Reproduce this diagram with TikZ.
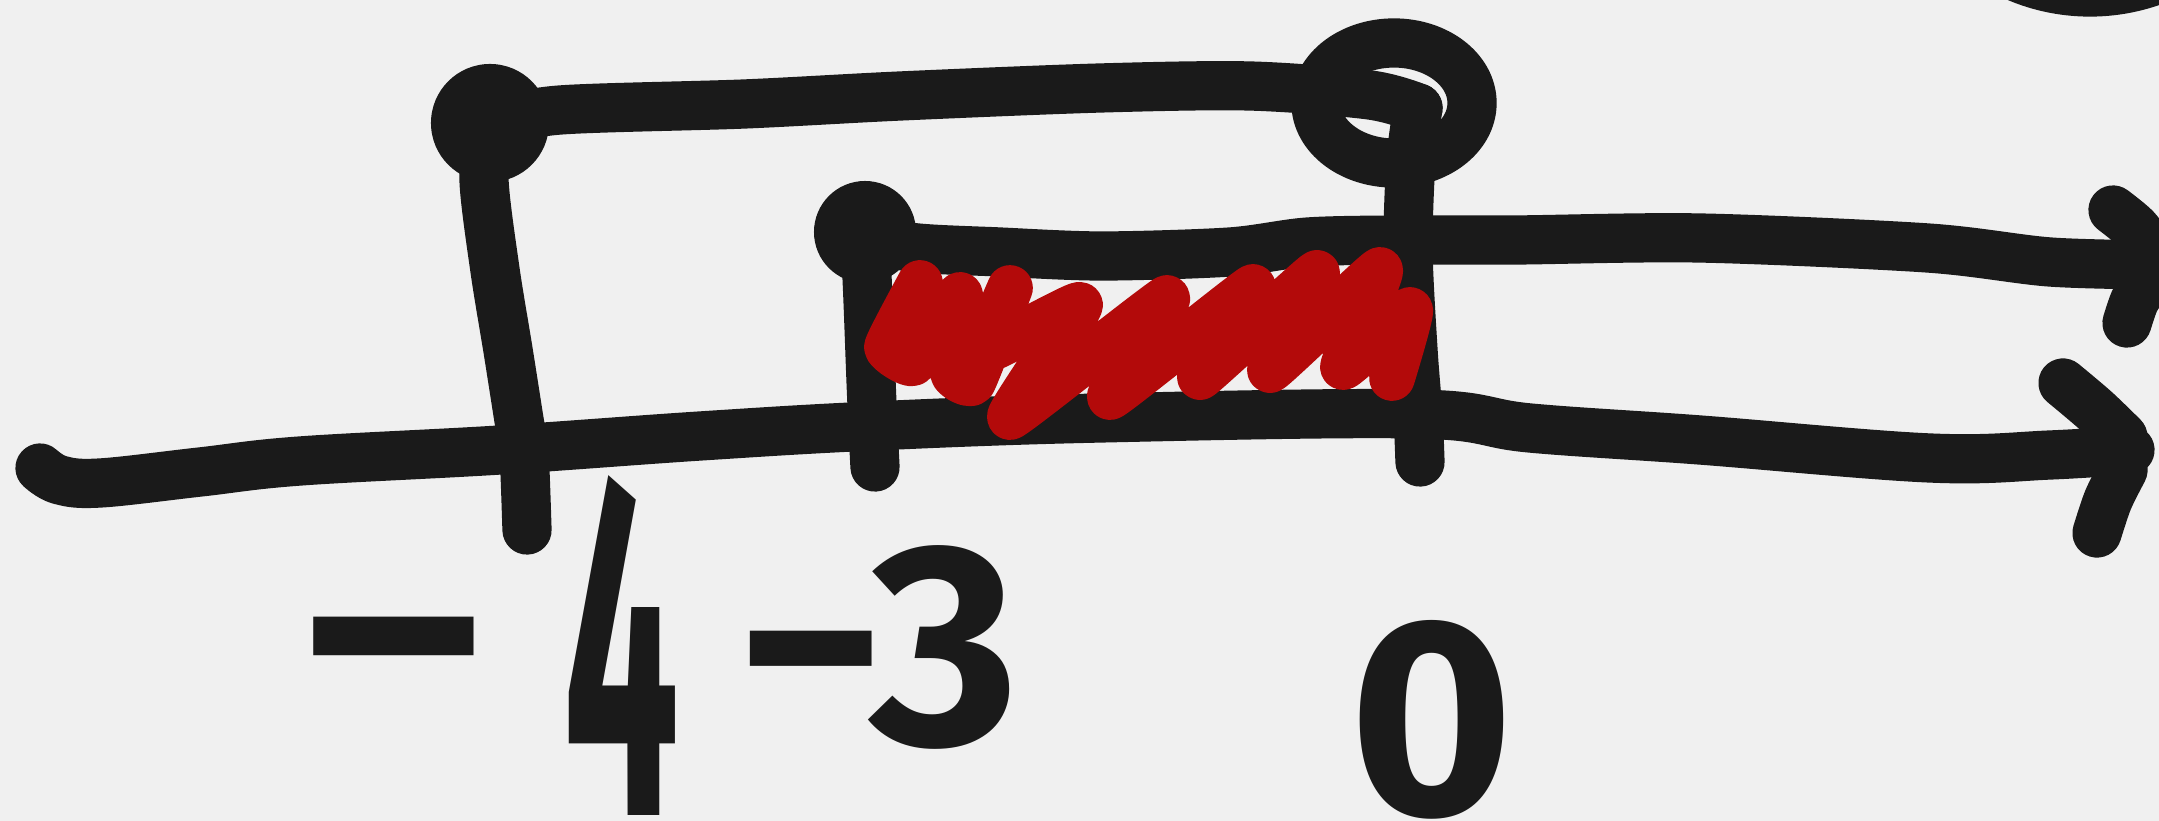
\documentclass[tikz,border=0pt]{standalone}
\usepackage{fontspec}
\setmainfont{Fira Sans}
\usetikzlibrary{shapes.geometric}
\definecolor{bg}{HTML}{F0F0F0}
\definecolor{ink}{HTML}{1A1A1A}
\definecolor{hatch}{HTML}{B30A0A}
\begin{document}
\begin{tikzpicture}[x=0.01cm,y=-0.01cm,
  inkline/.style={draw=ink,line width=14pt,line cap=round,line join=round},
  redline/.style={draw=hatch,line width=13pt,line cap=round,line join=round},
  filleddot/.style={circle,fill=ink,draw=none,inner sep=0pt,minimum size=#1},
  opendot/.style={ellipse,draw=ink,line width=14pt,inner sep=0pt,minimum width=1.56cm,minimum height=1.20cm},
  numlabel/.style={text=ink,font=\bfseries\fontsize{#1}{#1}\selectfont,inner sep=0pt}]
\useasboundingbox (0,0) rectangle (2159,821);
\fill[bg] (0,0) rectangle (2159,821);

% dots
\node[filleddot=1.18cm] (dA) at (490,123) {};
\node[filleddot=1.02cm] (dB) at (865,232) {};
\node[opendot] (oC) at (1394,103) {};

% named end points
\coordinate (lowS) at (40,468);
\coordinate (lowE) at (2130,450);
\coordinate (midE) at (2159,265);
\coordinate (tA) at (527,530);
\coordinate (tB) at (875,467);
\coordinate (tC) at (1420,462);

% lower number line
\draw[inkline] plot[smooth,tension=0.6] coordinates {(lowS) (60,480) (100,483) (200,472) (300,461) (500,450) (700,436) (873,426) (1100,418) (1418,414) (1530,428) (1700,440) (1930,458) (2050,455) (lowE)};
\draw[inkline] plot[smooth] coordinates {(2063,383) (2095,410) (2123,437)};
\draw[inkline] plot[smooth] coordinates {(2123,470) (2108,500) (2097,533)};

% top line from -4 dot through circle, then tick at 0
\draw[inkline] plot[smooth,tension=0.5] coordinates {(dA.center) (560,110) (744,104) (900,96) (1100,88) (1250,86) (1370,95) (1418,108)};
\draw[inkline] plot[smooth,tension=0.5] coordinates {(1418,108) (1411,160) (1408,250) (1413,350) (1418,415) (tC)};

% tick at -4
\draw[inkline] plot[smooth,tension=0.5] coordinates {(dA.center) (484,180) (495,270) (508,350) (519,420) (524,452) (tA)};
\fill[ink] (509,398) circle (13);

% tick at -3
\draw[inkline] plot[smooth,tension=0.5] coordinates {(dB.center) (868,300) (871,380) (873,427) (tB)};

% middle line with arrow
\draw[inkline] plot[smooth,tension=0.5] coordinates {(dB.center) (909,247) (1000,252) (1102,256) (1230,252) (1308,242) (1400,240) (1515,240) (1700,238) (1928,248) (2050,262) (midE)};
\draw[inkline] plot[smooth] coordinates {(2113,210) (2135,228) (2152,250)};
\draw[inkline] plot[smooth] coordinates {(2147,283) (2135,300) (2127,323)};

% red hatching
\draw[redline] plot[smooth,tension=0.2] coordinates {(920,283) (887,347) (913,363) (960,295) (953,373) (973,382) (1010,288) (987,350) (1080,305) (1010,417) (1167,298) (1110,397) (1253,287) (1200,377) (1317,273) (1270,370) (1380,270) (1343,367) (1410,310) (1392,378)};

% stroke at top right corner
\draw[inkline] (2010,-26) .. controls (2060,-2) and (2120,-2) .. (2170,-26);

% labels
\node[numlabel=90pt,anchor=base west] (lA) at (295,815) {\scalebox{1.2}[1]{\raisebox{21pt}{−}}\kern20pt\scalebox{0.65}[1.55]{4}};
\node[numlabel=82pt,anchor=north] (lB) at (878,545) {−3};
\node[numlabel=80pt,anchor=north] (lC) at (1432,620) {0};
\end{tikzpicture}
\end{document}
